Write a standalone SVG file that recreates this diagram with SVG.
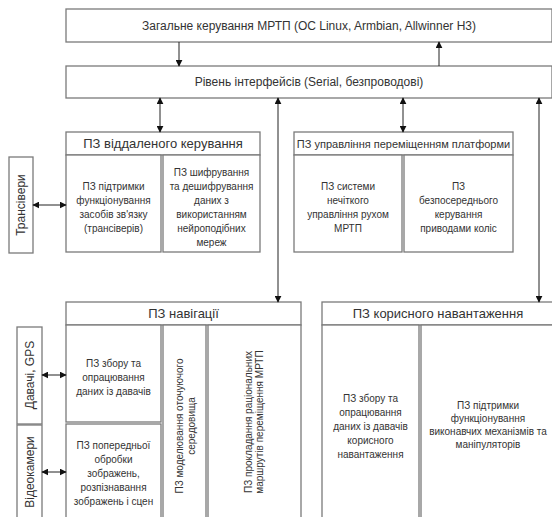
<svg xmlns="http://www.w3.org/2000/svg" width="552" height="517" viewBox="0 0 552 517">
<defs>
<marker id="ah" viewBox="0 0 10 10" refX="9" refY="5" markerWidth="7" markerHeight="7" orient="auto-start-reverse" markerUnits="userSpaceOnUse">
<path d="M0,0 L10,5 L0,10 z" fill="#111"/>
</marker>
<style>
.b{fill:#fff;stroke:#7a7a7a;stroke-width:1.3}
.t{font-family:"Liberation Sans",Arial,sans-serif;fill:#333;text-anchor:middle;dominant-baseline:central}
.h{font-size:12px}
.s{font-size:10px}
.c{stroke:#222;stroke-width:1;fill:none}
</style>
</defs>
<rect width="552" height="517" fill="#fff"/>

<g id="top">
<rect class="b" x="66" y="9" width="486" height="33"/>
<text class="t h" x="309" y="26">Загальне керування МРТП (ОС Linux, Armbian, Allwinner H3)</text>
</g>
<g id="iface">
<rect class="b" x="66" y="66" width="486" height="32"/>
<text class="t h" x="309" y="82">Рівень інтерфейсів (Serial, безпроводові)</text>
</g>

<g id="remote">
<rect class="b" x="66" y="132" width="194" height="23"/>
<text class="t" font-size="13" x="163" y="143.5">ПЗ віддаленого керування</text>
</g>
<g id="remote-comm">
<rect class="b" x="66" y="155" width="95" height="97"/>
<text class="t s" x="113.5" y="186">ПЗ підтримки</text>
<text class="t s" x="113.5" y="200">функціонування</text>
<text class="t s" x="113.5" y="214">засобів зв'язку</text>
<text class="t s" x="113.5" y="228">(трансіверів)</text>
</g>
<g id="remote-crypt">
<rect class="b" x="163" y="155" width="97" height="97"/>
<text class="t s" x="211.5" y="172">ПЗ шифрування</text>
<text class="t s" x="211.5" y="186">та дешифрування</text>
<text class="t s" x="211.5" y="200">даних з</text>
<text class="t s" x="211.5" y="214">використанням</text>
<text class="t s" x="211.5" y="228">нейроподібних</text>
<text class="t s" x="211.5" y="242">мереж</text>
</g>
<g id="transceivers">
<rect class="b" x="9" y="157" width="24" height="96"/>
<text class="t h" transform="translate(21,205) rotate(-90)">Трансівери</text>
</g>

<g id="platform">
<rect class="b" x="294" y="132" width="219" height="23"/>
<text class="t" font-size="11" x="403.5" y="143.5">ПЗ управління переміщенням платформи</text>
</g>
<g id="platform-fuzzy">
<rect class="b" x="294" y="155" width="108" height="97"/>
<text class="t s" x="348" y="186">ПЗ системи</text>
<text class="t s" x="348" y="200">нечіткого</text>
<text class="t s" x="348" y="214">управління рухом</text>
<text class="t s" x="348" y="228">МРТП</text>
</g>
<g id="platform-drive">
<rect class="b" x="404" y="155" width="109" height="97"/>
<text class="t s" x="458.5" y="186">ПЗ</text>
<text class="t s" x="458.5" y="200">безпосереднього</text>
<text class="t s" x="458.5" y="214">керування</text>
<text class="t s" x="458.5" y="228">приводами коліс</text>
</g>

<g id="nav">
<rect class="b" x="66" y="302" width="235" height="23"/>
<text class="t" font-size="13" x="183.5" y="313.5">ПЗ навігації</text>
</g>
<g id="nav-sensors">
<rect class="b" x="66" y="325" width="95" height="97"/>
<text class="t s" x="113.5" y="363">ПЗ збору та</text>
<text class="t s" x="113.5" y="377">опрацювання</text>
<text class="t s" x="113.5" y="391">даних із давачів</text>
</g>
<g id="nav-images">
<rect class="b" x="66" y="424" width="95" height="100"/>
<text class="t s" x="113.5" y="445">ПЗ попередньої</text>
<text class="t s" x="113.5" y="459">обробки</text>
<text class="t s" x="113.5" y="473">зображень,</text>
<text class="t s" x="113.5" y="487">розпізнавання</text>
<text class="t s" x="113.5" y="501">зображень і сцен</text>
</g>
<g id="nav-model">
<rect class="b" x="163" y="325" width="43" height="199"/>
<text class="t s" transform="translate(179.5,426) rotate(-90)">ПЗ моделювання оточуючого</text>
<text class="t s" transform="translate(191.5,426) rotate(-90)">середовища</text>
</g>
<g id="nav-routes">
<rect class="b" x="208" y="325" width="93" height="199"/>
<text class="t s" transform="translate(248,422) rotate(-90)">ПЗ прокладання раціональних</text>
<text class="t s" transform="translate(259,422) rotate(-90)">маршрутів переміщення МРТП</text>
</g>
<g id="sensors">
<rect class="b" x="17" y="327" width="25" height="97"/>
<text class="t h" transform="translate(29.5,375) rotate(-90)">Давачі, GPS</text>
</g>
<g id="cameras">
<rect class="b" x="17" y="425" width="25" height="99"/>
<text class="t h" transform="translate(29.5,472) rotate(-90)">Відеокамери</text>
</g>

<g id="payload">
<rect class="b" x="322" y="302" width="232" height="23"/>
<text class="t" font-size="13" x="438" y="313.5">ПЗ корисного навантаження</text>
</g>
<g id="payload-sensors">
<rect class="b" x="322" y="325" width="97" height="199"/>
<text class="t s" x="370.5" y="398">ПЗ збору та</text>
<text class="t s" x="370.5" y="412">опрацювання</text>
<text class="t s" x="370.5" y="426">даних із давачів</text>
<text class="t s" x="370.5" y="440">корисного</text>
<text class="t s" x="370.5" y="454">навантаження</text>
</g>
<g id="payload-actuators">
<rect class="b" x="421" y="325" width="133" height="199"/>
<text class="t s" x="488" y="405">ПЗ підтримки</text>
<text class="t s" x="488" y="418">функціонування</text>
<text class="t s" x="488" y="431">виконавчих механізмів та</text>
<text class="t s" x="488" y="444">маніпуляторів</text>
</g>

<g id="connectors">
<line class="c" x1="179" y1="42" x2="179" y2="66" marker-end="url(#ah)"/>
<line class="c" x1="439" y1="66" x2="439" y2="42" marker-end="url(#ah)"/>
<line class="c" x1="160" y1="98" x2="160" y2="132" marker-start="url(#ah)" marker-end="url(#ah)"/>
<line class="c" x1="278" y1="98" x2="278" y2="302" marker-start="url(#ah)" marker-end="url(#ah)"/>
<line class="c" x1="403" y1="98" x2="403" y2="132" marker-start="url(#ah)" marker-end="url(#ah)"/>
<line class="c" x1="539" y1="98" x2="539" y2="302" marker-start="url(#ah)" marker-end="url(#ah)"/>
<line class="c" x1="33" y1="205" x2="66" y2="205" marker-start="url(#ah)" marker-end="url(#ah)"/>
<line class="c" x1="42" y1="375" x2="66" y2="375" marker-start="url(#ah)" marker-end="url(#ah)"/>
<line class="c" x1="42" y1="472" x2="66" y2="472" marker-start="url(#ah)" marker-end="url(#ah)"/>
</g>
</svg>
